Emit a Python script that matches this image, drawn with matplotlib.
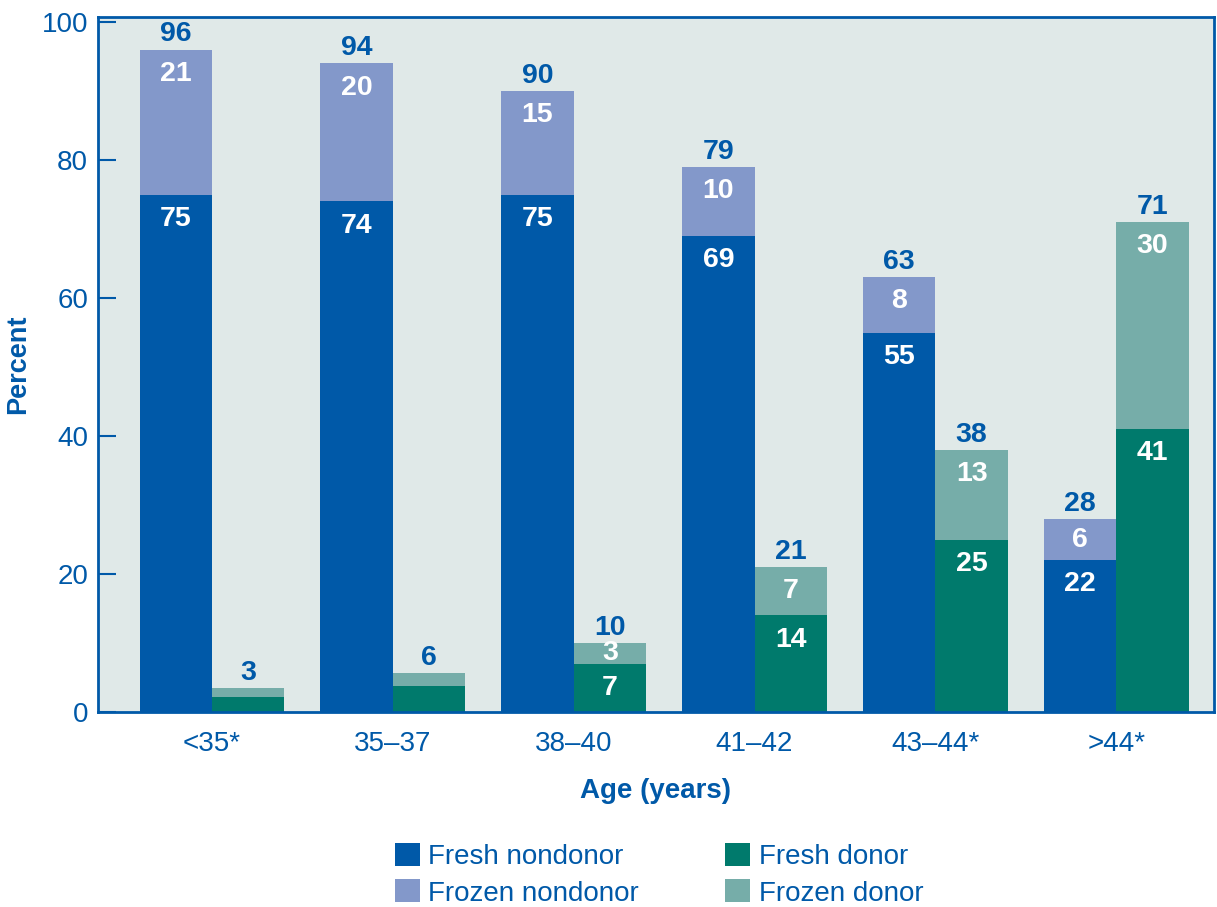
#!/usr/bin/env python3
"""Stacked bars: fresh/frozen transfers for nondonor and donor eggs by age group."""

import matplotlib
matplotlib.use("Agg")
import matplotlib.pyplot as plt
import numpy as np

# --- data ---
ages = ["<35*", "35\u201337", "38\u201340", "41\u201342", "43\u201344*", ">44*"]
fresh_nondonor = [75, 74, 75, 69, 55, 22]
frozen_nondonor = [21, 20, 15, 10, 8, 6]
total_nondonor = [96, 94, 90, 79, 63, 28]
fresh_donor = [2.2, 3.8, 7, 14, 25, 41]
frozen_donor = [1.3, 1.8, 3, 7, 13, 30]
total_donor = [3, 6, 10, 21, 38, 71]
legend_labels = ["Fresh nondonor", "Frozen nondonor", "Fresh donor", "Frozen donor"]

BLUE = "#0059A8"
C_FRESH_ND = "#0059A8"
C_FROZEN_ND = "#8398CA"
C_FRESH_D = "#007A6C"
C_FROZEN_D = "#76ADA9"
BG = "#E0E9E8"
LBL = 20.5


def seg_label(ax, x, bottom, h):
    top = bottom + h
    y = max(top - 3.5, bottom + h / 2)
    ax.text(x, y, f"{h:g}", ha="center", va="center", color="white",
            fontsize=LBL, fontweight="bold")


def main() -> None:
    plt.rcParams["font.family"] = ["Liberation Sans", "DejaVu Sans"]
    fig = plt.figure(figsize=(12.17, 9.07), dpi=100)
    ax = fig.add_axes([0.0805, 0.215, 0.917, 0.766])
    ax.set_facecolor(BG)

    x = np.arange(len(ages))
    w = 0.4
    xl = x - w / 2
    xr = x + w / 2

    b1 = ax.bar(xl, fresh_nondonor, w, color=C_FRESH_ND, label=legend_labels[0])
    b2 = ax.bar(xl, frozen_nondonor, w, bottom=fresh_nondonor, color=C_FROZEN_ND,
                label=legend_labels[1])
    b3 = ax.bar(xr, fresh_donor, w, color=C_FRESH_D, label=legend_labels[2])
    b4 = ax.bar(xr, frozen_donor, w, bottom=fresh_donor, color=C_FROZEN_D,
                label=legend_labels[3])

    for i in range(len(ages)):
        # nondonor
        seg_label(ax, xl[i], 0, fresh_nondonor[i])
        seg_label(ax, xl[i], fresh_nondonor[i], frozen_nondonor[i])
        top = fresh_nondonor[i] + frozen_nondonor[i]
        ax.annotate(str(total_nondonor[i]), (xl[i], top), xytext=(0, 11),
                    textcoords="offset points", ha="center", va="center",
                    color=BLUE, fontsize=LBL, fontweight="bold")
        # donor
        if total_donor[i] >= 10:
            seg_label(ax, xr[i], 0, fresh_donor[i])
            seg_label(ax, xr[i], fresh_donor[i], frozen_donor[i])
        top = fresh_donor[i] + frozen_donor[i]
        ax.annotate(str(total_donor[i]), (xr[i], top), xytext=(0, 11),
                    textcoords="offset points", ha="center", va="center",
                    color=BLUE, fontsize=LBL, fontweight="bold")

    ax.set_xlim(-0.63, 5.54)
    ax.set_ylim(0, 100.7)
    ax.set_yticks([0, 20, 40, 60, 80, 100])
    ax.set_xticks(x)
    ax.set_xticklabels(ages)
    ax.tick_params(axis="y", direction="in", length=13, width=1.5, color=BLUE,
                   labelcolor=BLUE, labelsize=20, pad=7)
    ax.tick_params(axis="x", length=0, labelcolor=BLUE, labelsize=20, pad=14)
    for s in ax.spines.values():
        s.set_color(BLUE)
        s.set_linewidth(2)

    ax.set_xlabel("Age (years)", color=BLUE, fontsize=20, fontweight="bold", labelpad=15)
    ax.set_ylabel("Percent", color=BLUE, fontsize=19.5, fontweight="bold", labelpad=8)

    leg = fig.legend(handles=[b1, b2, b3, b4], loc="upper left",
                     bbox_to_anchor=(0.3246, 0.071), ncol=2, frameon=False,
                     borderpad=0, borderaxespad=0,
                     fontsize=20, handlelength=0.9, handleheight=0.9,
                     handletextpad=0.3, columnspacing=3.1, labelspacing=0.35)
    for t in leg.get_texts():
        t.set_color(BLUE)

    fig.savefig("out.png", dpi=100)


if __name__ == "__main__":
    main()
